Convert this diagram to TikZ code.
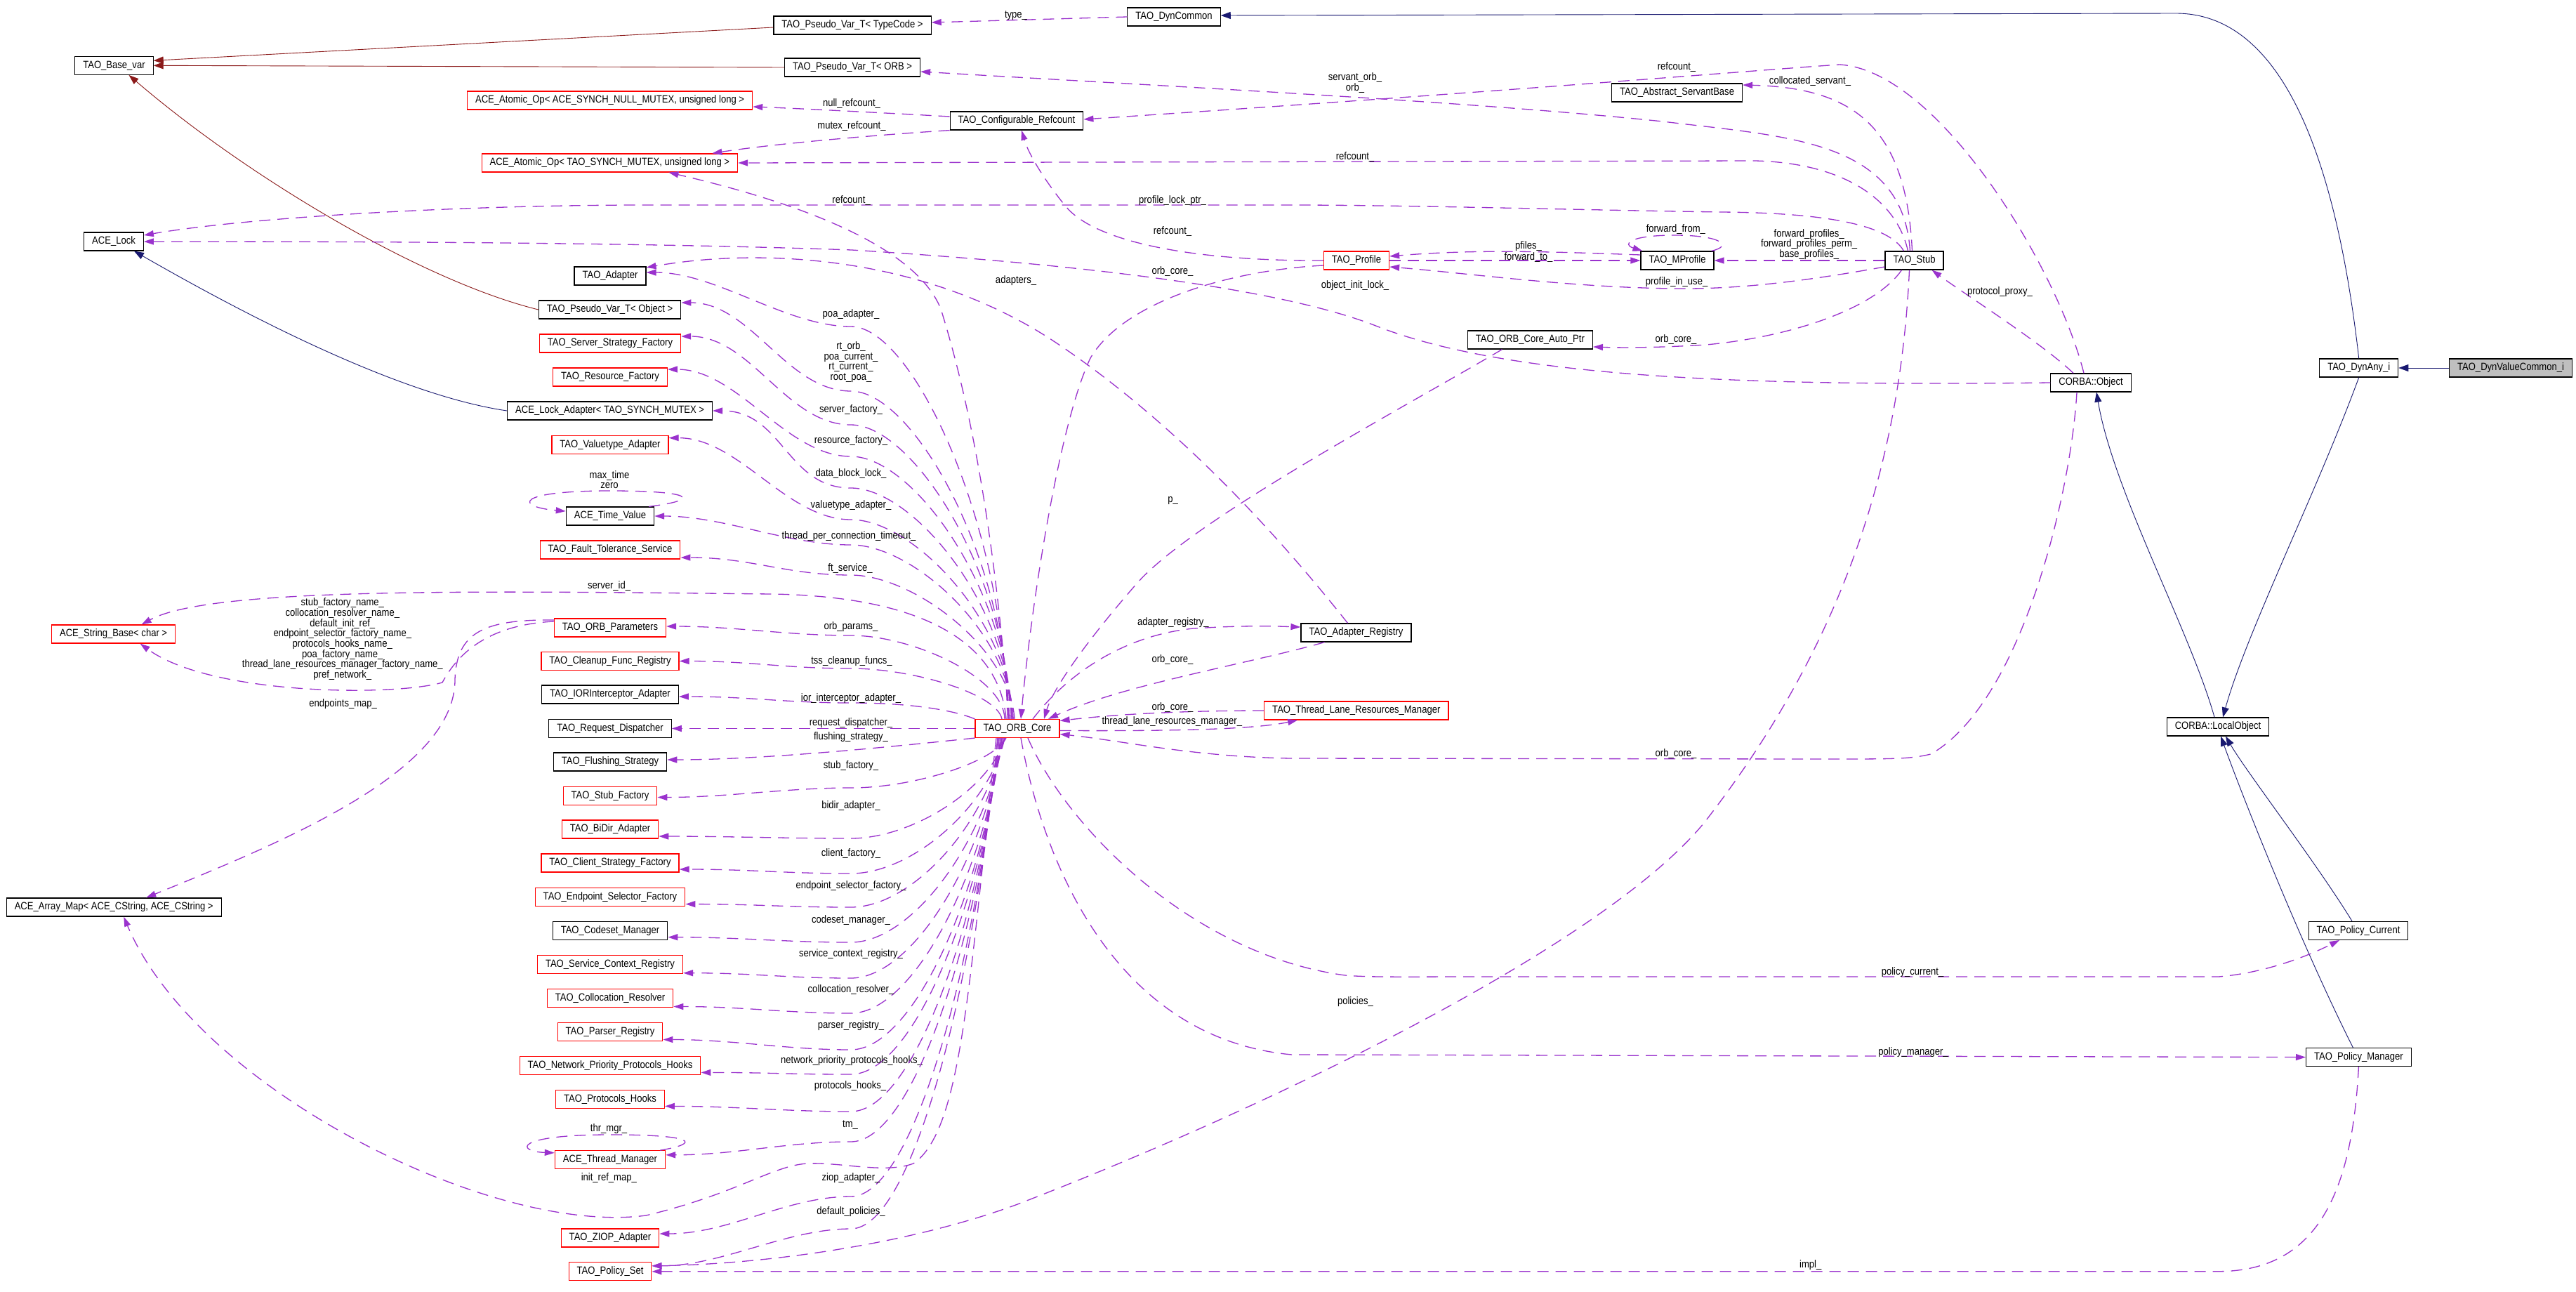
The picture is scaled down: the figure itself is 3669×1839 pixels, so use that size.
\documentclass[tikz,border=0pt]{standalone}
\usepackage{fontspec}
\setmainfont{Liberation Sans}[FakeStretch=0.87]
\usetikzlibrary{arrows.meta}
\definecolor{edgepurple}{HTML}{9A32CD}
\definecolor{midblue}{HTML}{191970}
\definecolor{brick}{HTML}{8B1A1A}
\definecolor{boxgray}{HTML}{BFBFBF}
\newcommand{\dfont}{\fontsize{15pt}{14.7pt}\selectfont}
\begin{document}
\begin{tikzpicture}[x=1pt, y=-1pt,
  cls/.style={draw=black, line width=1.2pt, inner xsep=11.5pt, inner ysep=0pt, minimum height=26pt, text height=11pt, text depth=3.5pt, font=\dfont},
  rcls/.style={cls, draw=red},
  lbl/.style={inner sep=0pt, text height=11pt, text depth=3pt, font=\dfont},
  mlbl/.style={inner sep=0pt, align=center, font=\dfont},
  mem/.style={draw=edgepurple, line width=1.3pt, dash pattern=on 16pt off 10pt, -{Triangle[length=14pt,width=9pt]}},
  inh/.style={draw=midblue, line width=0.9pt, -{Triangle[length=14pt,width=10pt]}},
  inhred/.style={inh, draw=brick}]
\fill[white] (0,0) rectangle (3669,1839);
\useasboundingbox (0,0) rectangle (3669,1839);
\node[cls] (basevar) at (162.5,93.3) {TAO\_Base\_var};
\node[cls] (pvtc) at (1214,36) {TAO\_Pseudo\_Var\_T< TypeCode >};
\node[cls] (dyncommon) at (1672,24) {TAO\_DynCommon};
\node[cls] (pvtorb) at (1214,96) {TAO\_Pseudo\_Var\_T< ORB >};
\node[rcls] (atomnull) at (868.6,143) {ACE\_Atomic\_Op< ACE\_SYNCH\_NULL\_MUTEX, unsigned long >};
\node[cls] (cfgref) at (1448,172) {TAO\_Configurable\_Refcount};
\node[cls] (servantbase) at (2388.5,132) {TAO\_Abstract\_ServantBase};
\node[rcls] (atomtao) at (868.4,232) {ACE\_Atomic\_Op< TAO\_SYNCH\_MUTEX, unsigned long >};
\node[cls] (acelock) at (162,344) {ACE\_Lock};
\node[cls] (adapter) at (869,393) {TAO\_Adapter};
\node[rcls] (profile) at (1932,371) {TAO\_Profile};
\node[cls] (mprofile) at (2389,371) {TAO\_MProfile};
\node[cls] (stub) at (2726.5,371) {TAO\_Stub};
\node[cls] (pvtobj) at (868.6,441) {TAO\_Pseudo\_Var\_T< Object >};
\node[rcls] (ssf) at (869,489) {TAO\_Server\_Strategy\_Factory};
\node[cls] (autoptr) at (2179.4,484) {TAO\_ORB\_Core\_Auto\_Ptr};
\node[rcls] (resfac) at (869,537) {TAO\_Resource\_Factory};
\node[cls] (lockadapter) at (868.6,585) {ACE\_Lock\_Adapter< TAO\_SYNCH\_MUTEX >};
\node[cls] (corbaobj) at (2978,545) {CORBA::Object};
\node[cls] (dynany) at (3359.7,524) {TAO\_DynAny\_i};
\node[cls, fill=boxgray] (dynvalue) at (3576,524) {TAO\_DynValueCommon\_i};
\node[rcls] (vtadapter) at (869,633.6) {TAO\_Valuetype\_Adapter};
\node[cls] (timevalue) at (869,735) {ACE\_Time\_Value};
\node[rcls] (ftservice) at (869,783) {TAO\_Fault\_Tolerance\_Service};
\node[rcls] (stringbase) at (161.6,903) {ACE\_String\_Base< char >};
\node[rcls] (orbparams) at (869,894) {TAO\_ORB\_Parameters};
\node[rcls] (cleanup) at (869,941.5) {TAO\_Cleanup\_Func\_Registry};
\node[cls] (iorint) at (869,989) {TAO\_IORInterceptor\_Adapter};
\node[cls] (reqdisp) at (869,1037.5) {TAO\_Request\_Dispatcher};
\node[rcls] (orbcore) at (1449,1037.5) {TAO\_ORB\_Core};
\node[cls] (flushing) at (869,1085) {TAO\_Flushing\_Strategy};
\node[rcls] (stubfac) at (869,1133.5) {TAO\_Stub\_Factory};
\node[rcls] (bidir) at (869,1181) {TAO\_BiDir\_Adapter};
\node[rcls] (csf) at (869,1229) {TAO\_Client\_Strategy\_Factory};
\node[rcls] (esf) at (869,1277.6) {TAO\_Endpoint\_Selector\_Factory};
\node[cls] (arraymap) at (162.2,1292) {ACE\_Array\_Map< ACE\_CString, ACE\_CString >};
\node[cls] (codeset) at (869,1325.7) {TAO\_Codeset\_Manager};
\node[rcls] (scr) at (869,1373.7) {TAO\_Service\_Context\_Registry};
\node[rcls] (colloc) at (869,1421.5) {TAO\_Collocation\_Resolver};
\node[rcls] (parser) at (869,1469.5) {TAO\_Parser\_Registry};
\node[rcls] (nphooks) at (869,1517.4) {TAO\_Network\_Priority\_Protocols\_Hooks};
\node[rcls] (phooks) at (869,1565.4) {TAO\_Protocols\_Hooks};
\node[rcls] (threadmgr) at (869,1651.8) {ACE\_Thread\_Manager};
\node[rcls] (ziop) at (869,1763) {TAO\_ZIOP\_Adapter};
\node[rcls] (policyset) at (869,1810.8) {TAO\_Policy\_Set};
\node[cls] (adreg) at (1931.5,901) {TAO\_Adapter\_Registry};
\node[rcls] (tlrm) at (1931.8,1012) {TAO\_Thread\_Lane\_Resources\_Manager};
\node[cls] (localobj) at (3159,1035) {CORBA::LocalObject};
\node[cls] (polcur) at (3359,1325.4) {TAO\_Policy\_Current};
\node[cls] (polman) at (3359.4,1505.6) {TAO\_Policy\_Manager};
\draw[inhred] ([yshift=-3pt]pvtc.west) -- ([yshift=7pt]basevar.east);
\draw[inhred] (pvtorb.west) -- (basevar.east);
\draw[inhred] (pvtobj.west) .. controls (600,400) and (350,250) .. ([xshift=21pt]basevar.south);
\draw[inh] (lockadapter.west) .. controls (550,560) and (300,420) .. ([xshift=29pt]acelock.south);
\draw[inh] (dynany.north) .. controls (3330,250) and (3260,20) .. (3100,19) -- ([yshift=2pt]dyncommon.east);
\draw[inh] (dynvalue.west) -- (dynany.east);
\draw[inh] (dynany.south) .. controls (3300,700) and (3200,900) .. ([xshift=7pt]localobj.north);
\draw[inh] ([xshift=-5pt]localobj.north) .. controls (3120,900) and (3010,700) .. ([xshift=8pt]corbaobj.south);
\draw[inh] ([xshift=-9pt]polcur.north) .. controls (3300,1230) and (3200,1100) .. ([xshift=11pt]localobj.south);
\draw[inh] ([xshift=-8pt]polman.north) .. controls (3280,1350) and (3200,1150) .. ([xshift=4pt]localobj.south);
\draw[mem] (dyncommon.west) -- ([yshift=4pt]pvtc.east);
\node[lbl] (lbl0) at (1447,21.6) {type\_};
\draw[mem] ([xshift=-6pt]stub.north) .. controls (2710,200) and (2550,195) .. (2368,173) .. controls (2100,145) and (1700,125) .. ([yshift=-6pt]pvtorb.east);
\node[mlbl] (lbl1) at (1930,118) {servant\_orb\_\\orb\_};
\draw[mem] ([xshift=-10pt]corbaobj.north) .. controls (2930,380) and (2760,100) .. (2620,92) .. controls (2500,100) and (2150,130) .. ([yshift=2pt]cfgref.east);
\node[lbl] (lbl2) at (2388,95.3) {refcount\_};
\draw[mem] ([xshift=-3pt]stub.north) .. controls (2715,180) and (2640,125) .. ([yshift=11pt]servantbase.east);
\node[lbl] (lbl3) at (2578,115) {collocated\_servant\_};
\draw[mem] ([xshift=-9pt]stub.north) .. controls (2700,280) and (2620,232) .. (2500,229) -- (atomtao.east);
\node[lbl] (lbl4) at (1930,223.5) {refcount\_};
\draw[mem] ([xshift=-15pt]stub.north) .. controls (2690,320) and (2600,303) .. (2450,302) .. controls (2250,299) and (2000,292) .. (1840,292) -- (920,292) .. controls (650,292) and (350,310) .. ([yshift=9pt]acelock.east);
\node[lbl] (lbl5) at (1670,285.5) {profile\_lock\_ptr\_};
\node[lbl] (lbl6) at (1212.6,285.4) {refcount\_};
\draw[mem] (corbaobj.west) .. controls (2500,550) and (2150,540) .. (1957,463) .. controls (1840,418) and (1600,380) .. (1213,356) .. controls (900,345) and (500,344) .. (acelock.east);
\node[lbl] (lbl7) at (1930,406) {object\_init\_lock\_};
\draw[mem] ([yshift=6pt]cfgref.west) .. controls (1300,163) and (1150,155) .. ([yshift=-9pt]atomnull.east);
\node[lbl] (lbl8) at (1213,147.8) {null\_refcount\_};
\draw[mem] (cfgref.south west) .. controls (1250,192) and (1100,205) .. ([xshift=146pt]atomtao.north);
\node[lbl] (lbl9) at (1213,179.6) {mutex\_refcount\_};
\draw[mem] (profile.west) .. controls (1700,372) and (1560,345) .. (1518,294) .. controls (1490,260) and (1465,220) .. ([xshift=7pt]cfgref.south);
\node[lbl] (lbl10) at (1670,329.3) {refcount\_};
\draw[mem] ([xshift=-12pt]orbcore.north) .. controls (1420,800) and (1390,600) .. (1340,440) .. controls (1300,340) and (1100,280) .. ([xshift=84pt]atomtao.south);
\draw[mem] ([xshift=-12pt]adreg.north) .. controls (1850,800) and (1700,620) .. (1507,490) .. controls (1330,370) and (1100,350) .. ([yshift=12pt]adapter.east);
\node[lbl] (lbl11) at (1447,399) {adapters\_};
\draw[mem] ([yshift=-7pt]profile.west) .. controls (1750,385) and (1600,430) .. (1553,510) .. controls (1510,600) and (1470,850) .. ([xshift=5pt]orbcore.north);
\node[lbl] (lbl12) at (1670,386) {orb\_core\_};
\draw[mem] ([yshift=8pt]mprofile.west) .. controls (2200,358) and (2100,355) .. ([yshift=6pt]profile.east);
\node[lbl] (lbl13) at (2177,350) {pfiles\_};
\draw[mem] (profile.east) -- (mprofile.west);
\node[lbl] (lbl14) at (2177,366.5) {forward\_to\_};
\draw[mem] (stub.west) -- (mprofile.east);
\node[mlbl] (lbl15) at (2576.7,347.9) {forward\_profiles\_\\forward\_profiles\_perm\_\\base\_profiles\_};
\draw[mem] ([yshift=-9pt]stub.west) .. controls (2600,395) and (2500,411) .. (2400,411) .. controls (2250,411) and (2100,390) .. ([yshift=-9pt]profile.east);
\node[lbl] (lbl16) at (2388,401.5) {profile\_in\_use\_};
\draw[mem] ([xshift=-4pt]mprofile.north east) .. controls (2470,350) and (2450,335) .. (2386,335) .. controls (2320,335) and (2310,348) .. ([xshift=3pt]mprofile.north west);
\node[lbl] (lbl17) at (2386.8,326.3) {forward\_from\_};
\draw[mem] ([xshift=-18pt]stub.south) .. controls (2670,440) and (2550,480) .. (2430,491) .. controls (2350,496) and (2300,495) .. ([yshift=-10pt]autoptr.east);
\node[lbl] (lbl18) at (2387,483) {orb\_core\_};
\draw[mem] ([xshift=-40pt]autoptr.south) .. controls (2000,580) and (1700,740) .. (1620,830) .. controls (1550,910) and (1500,980) .. ([xshift=38pt]orbcore.north);
\node[lbl] (lbl19) at (1670.5,711) {p\_};
\draw[mem] ([xshift=-45pt]adreg.south) .. controls (1780,945) and (1600,975) .. ([xshift=44pt]orbcore.north);
\node[lbl] (lbl20) at (1670,939.7) {orb\_core\_};
\draw[mem] ([xshift=22pt]orbcore.north) .. controls (1520,960) and (1600,905) .. (1700,895) .. controls (1780,890) and (1820,892) .. ([yshift=8pt]adreg.west);
\node[lbl] (lbl21) at (1670.8,886.8) {adapter\_registry\_};
\draw[mem] (tlrm.west) .. controls (1700,1012) and (1600,1016) .. ([yshift=11pt]orbcore.east);
\node[lbl] (lbl22) at (1670,1007.2) {orb\_core\_};
\draw[mem] ([yshift=-3pt]orbcore.east) .. controls (1650,1041) and (1780,1040) .. ([xshift=48pt]tlrm.south west);
\node[lbl] (lbl23) at (1669.3,1027.6) {thread\_lane\_resources\_manager\_};
\draw[mem] ([xshift=-20pt]corbaobj.south) .. controls (2950,700) and (2880,1000) .. (2750,1074) .. controls (2720,1081) and (2700,1081) .. (2600,1081) -- (1840,1080) .. controls (1700,1078) and (1600,1055) .. ([yshift=-8pt]orbcore.east);
\node[lbl] (lbl24) at (2387,1073.9) {orb\_core\_};
\draw[mem] ([xshift=-25pt]corbaobj.north) .. controls (2910,490) and (2800,420) .. ([xshift=25pt]stub.south);
\node[lbl] (lbl25) at (2848.4,415.7) {protocol\_proxy\_};
\draw[mem] ([xshift=-7pt]stub.south) .. controls (2705,700) and (2600,950) .. (2427,1172) .. controls (2280,1350) and (1800,1580) .. (1448,1715.5) .. controls (1300,1770) and (1100,1800) .. ([yshift=8pt]policyset.east);
\node[lbl] (lbl26) at (1930.4,1426.9) {policies\_};
\draw[mem] ([xshift=15pt]orbcore.south) .. controls (1520,1180) and (1700,1360) .. (1916,1389) .. controls (1950,1392) and (2000,1391) .. (2100,1391) -- (3160,1391) .. controls (3230,1385) and (3290,1360) .. ([xshift=-27pt]polcur.south);
\node[lbl] (lbl27) at (2724,1384) {policy\_current\_};
\draw[mem] ([xshift=5pt]orbcore.south) .. controls (1490,1250) and (1600,1480) .. (1840,1502) -- (polman.west);
\node[lbl] (lbl28) at (2725,1498) {policy\_manager\_};
\draw[mem] (polman.south) .. controls (3350,1700) and (3300,1810) .. (3160,1810.7) -- (policyset.east);
\node[lbl] (lbl29) at (2578.7,1801.7) {impl\_};
\draw[mem] ([xshift=-14pt]orbcore.north) .. controls (1430,745) and (1300,465) .. (1212,465) .. controls (1120,465) and +(100,0) .. ([yshift=5pt]adapter.east);
\node[lbl] (lbl30) at (1212,447.5) {poa\_adapter\_};
\draw[mem] ([xshift=-12pt]orbcore.north) .. controls (1432,791) and (1300,557) .. (1212,557) .. controls (1120,557) and +(100,0) .. ([yshift=10pt]pvtobj.east);
\node[mlbl] (lbl31) at (1212,515.5) {rt\_orb\_\\poa\_current\_\\rt\_current\_\\root\_poa\_};
\draw[mem] ([xshift=-10pt]orbcore.north) .. controls (1434,815) and (1300,605) .. (1212,605) .. controls (1120,605) and +(100,0) .. ([yshift=10pt]ssf.east);
\node[lbl] (lbl32) at (1212,583) {server\_factory\_};
\draw[mem] ([xshift=-8pt]orbcore.north) .. controls (1434,837) and (1300,650) .. (1212,650) .. controls (1120,650) and +(100,0) .. ([yshift=11pt]resfac.east);
\node[lbl] (lbl33) at (1212,627.5) {resource\_factory\_};
\draw[mem] ([xshift=-8pt]orbcore.north) .. controls (1436,860) and (1300,695) .. (1212,695) .. controls (1120,695) and +(100,0) .. (lockadapter.east);
\node[lbl] (lbl34) at (1212,674) {data\_block\_lock\_};
\draw[mem] ([xshift=-6pt]orbcore.north) .. controls (1436,882) and (1300,740) .. (1212,740) .. controls (1120,740) and +(100,0) .. ([yshift=10pt]vtadapter.east);
\node[lbl] (lbl35) at (1212,719) {valuetype\_adapter\_};
\draw[mem] ([xshift=-6pt]orbcore.north) .. controls (1438,900) and (1300,776) .. (1212,776) .. controls (1120,776) and +(100,0) .. (timevalue.east);
\node[lbl] (lbl36) at (1209,763.6) {thread\_per\_connection\_timeout\_};
\draw[mem] ([xshift=-4pt]orbcore.north) .. controls (1438,922) and (1300,819) .. (1212,819) .. controls (1120,819) and +(100,0) .. ([yshift=-11pt]ftservice.east);
\node[lbl] (lbl37) at (1211,809.5) {ft\_service\_};
\draw[mem] ([xshift=-16pt]orbcore.north) .. controls (1425,930) and (1340,850) .. (1100,846) .. controls (700,842) and (300,835) .. ([xshift=40pt]stringbase.north);
\node[lbl] (lbl38) at (867.6,834.5) {server\_id\_};
\draw[mem] ([xshift=-18pt]orbcore.north) .. controls (1430,965) and (1300,905) .. (1212,905) .. controls (1120,905) and +(100,0) .. ([yshift=2pt]orbparams.east);
\node[lbl] (lbl39) at (1212,892) {orb\_params\_};
\draw[mem] ([xshift=-22pt]orbcore.north) .. controls (1420,988) and (1300,952) .. (1212,952) .. controls (1120,952) and +(100,0) .. (cleanup.east);
\node[lbl] (lbl40) at (1213,941) {tss\_cleanup\_funcs\_};
\draw[mem] (orbcore.north west) .. controls (1360,1012) and (1300,1001) .. (1212,1001) .. controls (1120,1001) and +(100,0) .. ([yshift=-3pt]iorint.east);
\node[lbl] (lbl41) at (1212,994.6) {ior\_interceptor\_adapter\_};
\draw[mem] (orbcore.west) -- (reqdisp.east);
\node[lbl] (lbl42) at (1212,1029.5) {request\_dispatcher\_};
\draw[mem] (orbcore.south west) .. controls (1300,1060) and (1100,1082) .. ([yshift=3pt]flushing.east);
\node[lbl] (lbl43) at (1212,1049.6) {flushing\_strategy\_};
\draw[mem] ([xshift=-16pt]orbcore.south) .. controls (1415,1086) and (1300,1122) .. (1212,1122) .. controls (1120,1122) and +(100,0) .. ([yshift=-2pt]stubfac.east);
\node[lbl] (lbl44) at (1212,1090.8) {stub\_factory\_};
\draw[mem] ([xshift=-18pt]orbcore.south) .. controls (1412,1122) and (1300,1194) .. (1212,1194) .. controls (1120,1194) and +(100,0) .. ([yshift=-10pt]bidir.east);
\node[lbl] (lbl45) at (1212,1147.6) {bidir\_adapter\_};
\draw[mem] ([xshift=-18pt]orbcore.south) .. controls (1410,1147) and (1300,1244) .. (1212,1244) .. controls (1120,1244) and +(100,0) .. ([yshift=-9pt]csf.east);
\node[lbl] (lbl46) at (1212,1215) {client\_factory\_};
\draw[mem] ([xshift=-20pt]orbcore.south) .. controls (1408,1171) and (1300,1292) .. (1212,1292) .. controls (1120,1292) and +(100,0) .. ([yshift=-10pt]esf.east);
\node[lbl] (lbl47) at (1212,1261.8) {endpoint\_selector\_factory\_};
\draw[mem] ([xshift=-20pt]orbcore.south) .. controls (1406,1196) and (1300,1342) .. (1212,1342) .. controls (1120,1342) and +(100,0) .. ([yshift=-9pt]codeset.east);
\node[lbl] (lbl48) at (1212,1310) {codeset\_manager\_};
\draw[mem] ([xshift=-22pt]orbcore.south) .. controls (1404,1222) and (1300,1393) .. (1212,1393) .. controls (1120,1393) and +(100,0) .. ([yshift=-12pt]scr.east);
\node[lbl] (lbl49) at (1212,1358.6) {service\_context\_registry\_};
\draw[mem] ([xshift=-22pt]orbcore.south) .. controls (1402,1247) and (1300,1443) .. (1212,1443) .. controls (1120,1443) and +(100,0) .. ([yshift=-12pt]colloc.east);
\node[lbl] (lbl50) at (1212,1409.4) {collocation\_resolver\_};
\draw[mem] ([xshift=-24pt]orbcore.south) .. controls (1400,1273) and (1300,1495) .. (1212,1495) .. controls (1120,1495) and +(100,0) .. ([yshift=-11pt]parser.east);
\node[lbl] (lbl51) at (1212,1460) {parser\_registry\_};
\draw[mem] ([xshift=-24pt]orbcore.south) .. controls (1398,1290) and (1300,1530) .. (1212,1530) .. controls (1120,1530) and +(100,0) .. ([yshift=-10pt]nphooks.east);
\node[lbl] (lbl52) at (1213,1510.4) {network\_priority\_protocols\_hooks\_};
\draw[mem] ([xshift=-26pt]orbcore.south) .. controls (1396,1317) and (1300,1583) .. (1212,1583) .. controls (1120,1583) and +(100,0) .. ([yshift=-10pt]phooks.east);
\node[lbl] (lbl53) at (1211,1546.6) {protocols\_hooks\_};
\draw[mem] ([xshift=-26pt]orbcore.south) .. controls (1394,1338) and (1300,1626) .. (1212,1626) .. controls (1120,1626) and +(100,0) .. ([yshift=7pt]threadmgr.east);
\node[lbl] (lbl54) at (1211,1601.7) {tm\_};
\draw[mem] ([xshift=-28pt]orbcore.south) .. controls (1390,1377) and (1300,1704) .. (1212,1704) .. controls (1120,1704) and +(100,0) .. ([yshift=6pt]ziop.east);
\node[lbl] (lbl55) at (1212,1677.8) {ziop\_adapter\_};
\draw[mem] ([xshift=-28pt]orbcore.south) .. controls (1388,1400) and (1300,1750) .. (1212,1750) .. controls (1120,1750) and +(100,0) .. ([yshift=8pt]policyset.east);
\node[lbl] (lbl56) at (1212,1725) {default\_policies\_};
\draw[mem] ([xshift=-30pt]orbcore.south) .. controls (1380,1400) and (1370,1610) .. (1301,1657) .. controls (1260,1672) and (1200,1655) .. (1150,1657) .. controls (1100,1660) and (1050,1700) .. (920,1731) .. controls (700,1760) and (280,1550) .. ([xshift=14pt]arraymap.south);
\node[lbl] (lbl57) at (867.3,1677.8) {init\_ref\_map\_};
\draw[mem] ([yshift=9pt]orbparams.west) .. controls (690,890) and (650,935) .. (630,972) .. controls (560,992) and (300,990) .. ([xshift=38pt]stringbase.south);
\node[mlbl] (lbl58) at (487.8,910.2) {stub\_factory\_name\_\\collocation\_resolver\_name\_\\default\_init\_ref\_\\endpoint\_selector\_factory\_name\_\\protocols\_hooks\_name\_\\poa\_factory\_name\_\\thread\_lane\_resources\_manager\_factory\_name\_\\pref\_network\_};
\draw[mem] ([yshift=11pt]orbparams.west) .. controls (690,882) and (650,900) .. (648,968) .. controls (648,1100) and (400,1200) .. ([xshift=46pt]arraymap.north);
\node[lbl] (lbl59) at (488.7,1002.3) {endpoints\_map\_};
\draw[mem] ([xshift=-8pt]timevalue.north east) .. controls (1000,712) and (990,699) .. (869,699) .. controls (730,699) and (735,722) .. ([yshift=7pt]timevalue.west);
\node[mlbl] (lbl60) at (868,683.2) {max\_time\\zero};
\draw[mem] ([xshift=-8pt]threadmgr.north east) .. controls (1000,1628) and (990,1616) .. (869,1616) .. controls (730,1616) and (735,1640) .. ([yshift=10pt]threadmgr.west);
\node[lbl] (lbl61) at (867,1607.5) {thr\_mgr\_};
\end{tikzpicture}
\end{document}
